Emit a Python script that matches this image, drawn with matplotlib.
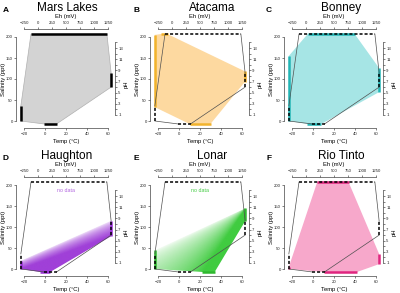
import numpy as np
import matplotlib
matplotlib.use('Agg')
import matplotlib.pyplot as plt
from matplotlib.patches import Polygon

plt.rcParams['font.family'] = ['Liberation Sans', 'DejaVu Sans']

# ranges per site (salinity ppt, Eh mV, pH, temperature C)
sites = ['Mars Lakes', 'Atacama', 'Bonney', 'Haughton', 'Lonar', 'Rio Tinto']
letters = ['A', 'B', 'C', 'D', 'E', 'F']
sal_lo = [0, 33, 0, 0, 0, 0]
sal_hi = [36, 205, 155, 20, 45, 5]
eh_lo = [-125, -200, 30, None, None, 200]
eh_hi = [1230, -80, 870, None, None, 760]
ph_lo = [6.0, 7.0, 5.1, 5.8, 8.5, 0.8]
ph_hi = [8.5, 8.8, 9.4, 8.6, 10.8, 2.6]
t_lo = [-1, 10, -6, -5, 22, 10]
t_hi = [11, 30, 8, 5, 34, 42]

fills = ['#d3d3d3', '#fdd9a0', '#a6e5e5', '#a040d8', '#40cc40', '#f7a8cb']
barcols = ['black', '#f2b32c', '#22b5b5', '#9b30d9', '#2eb82e', '#e0257f']
nodata_cols = {3: '#b266e0', 4: '#44cc44'}

W, H = 400, 293
fig = plt.figure(figsize=(W / 100, H / 100), dpi=100)

col_off = [0, 134, 268]
row_off = [0, 148]
title_x = [67, 212, 341]
letter_x = [5.5, 136, 269]

TL, TR, SB, ST = -23, 63, -7, 207   # frame where ranges are drawn


def eh2t(e):
    return -20 + (e + 250) * 80 / 1500


def ph2s(p):
    return 14.29 + (p - 1) * 13.29


def s2ph(s):
    return 1 + (s - 14.29) / 13.29


def outline(i):
    pts = [(TL, sal_hi[i])]
    if eh_lo[i] is not None:
        pts += [(eh2t(eh_lo[i]), ST), (eh2t(eh_hi[i]), ST)]
    pts += [(TR, ph2s(ph_hi[i])), (TR, ph2s(ph_lo[i])),
            (t_hi[i], SB), (t_lo[i], SB), (TL, sal_lo[i])]
    return pts


def range_bars(ax, i, **kw):
    segs = [([TL, TL], [sal_lo[i], sal_hi[i]]),
            ([TR, TR], [ph2s(ph_lo[i]), ph2s(ph_hi[i])]),
            ([t_lo[i], t_hi[i]], [SB, SB])]
    if eh_lo[i] is not None:
        segs.append(([eh2t(eh_lo[i]), eh2t(eh_hi[i])], [ST, ST]))
    for xs, ys in segs:
        ax.plot(xs, ys, solid_capstyle='butt', clip_on=False, **kw)


def line_at(p0, p1, x):
    return p0[1] + (x - p0[0]) * (p1[1] - p0[1]) / (p1[0] - p0[0])


def gradient(ax, i, mode):
    tt, ss = np.meshgrid(np.linspace(-25, 65, 300), np.linspace(-12, 212, 300))
    if mode == 'vert':
        lo0, lo1 = (TL, sal_lo[i]), (TR, ph2s(ph_lo[i]))
    else:
        lo0, lo1 = (t_lo[i], SB), (TR, ph2s(ph_hi[i]))
    up0, up1 = (TL, sal_hi[i]), (TR, ph2s(ph_hi[i]))
    lo = line_at(lo0, lo1, tt)
    up = line_at(up0, up1, tt)
    a = np.clip((up - ss) / np.maximum(up - lo, 1e-6), 0, 1) ** 0.55
    rgb = matplotlib.colors.to_rgb(fills[i])
    img = np.zeros(tt.shape + (4,))
    img[..., :3] = rgb
    img[..., 3] = a
    im = ax.imshow(img, extent=(-25, 65, -12, 212), origin='lower',
                   aspect='auto', interpolation='bilinear', zorder=1)
    clip = Polygon(outline(i), closed=True, transform=ax.transData)
    im.set_clip_path(clip)


tick_kw = dict(labelsize=3.1, length=1.5, width=0.4, colors='#222222')

for i in range(6):
    cx = col_off[i % 3]
    ry = row_off[i // 3]
    ax = fig.add_axes([(18.75 + cx) / W, 1 - (31.96 + ry + 94.08) / H,
                       94.5 / W, 94.08 / H])

    if i in (3, 4):
        gradient(ax, i, 'vert' if i == 3 else 'fan')
    else:
        ax.add_patch(Polygon(outline(i), closed=True, facecolor=fills[i],
                             edgecolor='#b0b0b0' if i == 0 else 'none',
                             lw=0.5, zorder=1))
    range_bars(ax, i, color=barcols[i], lw=1.8, zorder=3)

    if i > 0:
        m = outline(0)
        for a_, b_ in [(0, 1), (2, 3), (4, 5), (6, 7)]:
            ax.plot([m[a_][0], m[b_][0]], [m[a_][1], m[b_][1]],
                    color='#505050', lw=0.5, zorder=4, clip_on=False)
        range_bars(ax, 0, color='black', lw=1.1, ls=(0, (2, 1.3)), zorder=5)

    if i in nodata_cols:
        ax.text(20, 186, 'no data', color=nodata_cols[i], fontsize=3.8,
                ha='center', va='center')

    ax.set_xlim(-25, 65)
    ax.set_ylim(-12, 212)
    for s in ['top', 'right']:
        ax.spines[s].set_visible(False)
    ax.spines['left'].set_position(('outward', 2))
    ax.spines['left'].set_bounds(0, 200)
    ax.spines['bottom'].set_position(('outward', 1.5))
    ax.spines['bottom'].set_bounds(-20, 60)
    for s in ['left', 'bottom']:
        ax.spines[s].set_linewidth(0.5)
        ax.spines[s].set_color('#444444')
    ax.set_xticks([-20, 0, 20, 40, 60])
    ax.set_yticks([0, 50, 100, 150, 200])
    ax.tick_params(axis='x', pad=1.5, **tick_kw)
    ax.tick_params(axis='y', pad=0.8, **tick_kw)

    # Eh axis on top
    axt = ax.twiny()
    axt.set_xlim((-25 + 20) * 1500 / 80 - 250, (65 + 20) * 1500 / 80 - 250)
    for s in ['left', 'right', 'bottom']:
        axt.spines[s].set_visible(False)
    axt.spines['top'].set_position(('outward', 2.2))
    axt.spines['top'].set_bounds(-250, 1250)
    axt.spines['top'].set_linewidth(0.5)
    axt.spines['top'].set_color('#444444')
    axt.set_xticks(np.arange(-250, 1251, 250))
    axt.tick_params(axis='x', pad=1.1, **tick_kw)

    # pH axis on right
    axr = ax.twinx()
    axr.set_ylim(s2ph(-12), s2ph(212))
    for s in ['left', 'top', 'bottom']:
        axr.spines[s].set_visible(False)
    axr.spines['right'].set_position(('outward', 1.3))
    axr.spines['right'].set_bounds(1, 14)
    axr.spines['right'].set_linewidth(0.5)
    axr.spines['right'].set_color('#444444')
    axr.set_yticks(range(1, 15))
    axr.set_yticklabels([str(v) if v % 2 else '' for v in range(1, 15)])
    axr.tick_params(axis='y', pad=0.8, **tick_kw)

    def fx(x):
        return x / W

    def fy(y):
        return 1 - y / H

    fig.text(fx(4 + cx), fy(79 + ry), 'Salinity (ppt)', rotation=90,
             fontsize=4.2, ha='center', va='center')
    fig.text(fx(66 + cx), fy(141 + ry), 'Temp (°C)', fontsize=4.2,
             ha='center', va='center')
    fig.text(fx(66 + cx), fy(16.5 + ry), 'Eh (mV)', fontsize=4.2,
             ha='center', va='center')
    fig.text(fx(126 + cx), fy(84 + ry), 'pH', rotation=90, fontsize=4.2,
             ha='center', va='center')
    fig.text(fx(title_x[i % 3]), fy(8 + ry), sites[i], fontsize=8.5,
             ha='center', va='center')
    fig.text(fx(letter_x[i % 3]), fy(11 + ry), letters[i], fontsize=6,
             fontweight='bold', ha='center', va='center')

fig.savefig('out.png', dpi=100)
